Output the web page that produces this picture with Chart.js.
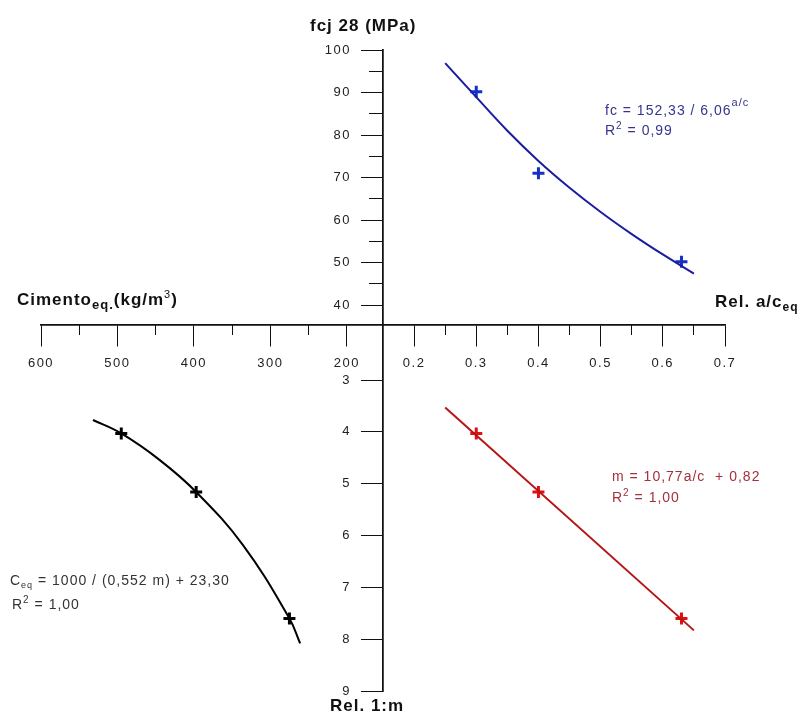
<!DOCTYPE html>
<html><head><meta charset="utf-8">
<script src="https://cdn.jsdelivr.net/npm/chart.js@4.4.1/dist/chart.umd.min.js"></script>
<style>html,body{margin:0;background:#fff}canvas{display:block}</style>
</head><body>
<canvas id="nomo" width="800" height="724"></canvas>
<script>
// measured points: a/c, fcj 28 (MPa), 1:m, cement content (kg/m3)
const acPts=[0.30,0.40,0.63];
const fcPts=[90.2,71.0,50.2];
const mPts=[4.03,5.16,7.60];
const cePts=[495,397,275];
// fitted curves
const fcCurveAc=[0.25,0.30,0.35,0.40,0.45,0.50,0.55,0.60,0.65];
const fcCurveFc=[96.9,88.9,81.0,73.9,67.6,61.9,56.7,51.9,47.4];
const mLineAc=[0.25,0.65];
const mLineM=[3.53,7.83];
const ceCurveM=[3.77,4.03,4.54,5.16,6.18,7.60,8.08];
const ceCurveC=[532,495,445,397,336,275,261];
// ticks
const acTicks=[0.2,0.3,0.4,0.5,0.6,0.7];
const acMinor=[0.25,0.35,0.45,0.55,0.65];
const ceTicks=[200,300,400,500,600];
const ceMinor=[250,350,450,550];
const fcTicks=[40,50,60,70,80,90,100];
const fcMinor=[45,55,65,75,85,95];
const mTicks=[3,4,5,6,7,8,9];

Chart.defaults.font.family='Arial, "Liberation Sans", sans-serif';
const pts=(xs,ys)=>xs.map((x,i)=>({x,y:ys[i]}));

function mkScale(ax,min,max,ticks,major,more){
  return Object.assign({
    type:'linear',axis:ax,min,max,
    position:ax==='x'?{y:35.46}:'center',
    afterBuildTicks:s=>{s.ticks=ticks.map(v=>({value:v}));},
    grid:{drawOnChartArea:false,drawTicks:true,tickLength:major?21:(ax==='x'?11:14),color:'#111',lineWidth:1},
    border:{display:major,color:'#111',width:1.5},
    ticks:{display:major,autoSkip:false,maxRotation:0,padding:ax==='x'?10:11,color:'#222',font:{size:13},
      callback:v=>ax==='x'&&v<1?v.toFixed(1):String(v)}
  },more||{});
}

const textPlugin={id:'texts',
  beforeDraw(c){c.ctx.letterSpacing='1.5px';},
  afterDraw(c){
    const g=c.ctx;g.save();g.textAlign='left';g.textBaseline='alphabetic';
    const rich=(x,y,col,parts)=>{g.fillStyle=col;parts.forEach(([t,f,dy])=>{g.font=f;g.fillText(t,x,y+(dy||0));x+=g.measureText(t).width;});};
    const B='bold 17px Arial, "Liberation Sans", sans-serif';
    const F=s=>s+'px Arial, "Liberation Sans", sans-serif';
    g.letterSpacing='1px';
    rich(310,31,'#111',[['fcj 28 (MPa)',B]]);
    rich(330,711,'#111',[['Rel. 1:m',B]]);
    rich(17,305,'#111',[['Cimento',B],['eq.','bold '+F(13),4],['(kg/m',B],['3',F(11),-7],[')',B]]);
    rich(715,307,'#111',[['Rel. a/c',B],['eq','bold '+F(12),4]]);
    rich(605,115,'#35358f',[['fc = 152,33 / 6,06',F(14)],['a/c',F(11),-9]]);
    rich(605,135,'#35358f',[['R',F(14)],['2',F(10),-6],[' = 0,99',F(14)]]);
    rich(612,481,'#a3303c',[['m = 10,77a/c  + 0,82',F(14)]]);
    rich(612,502,'#a3303c',[['R',F(14)],['2',F(10),-6],[' = 1,00',F(14)]]);
    rich(10,585,'#333',[['C',F(14)],['eq',F(9),3],[' = 1000 / (0,552 m) + 23,30',F(14)]]);
    rich(12,609,'#333',[['R',F(14)],['2',F(10),-6],[' = 1,00',F(14)]]);
    g.restore();
  }};

new Chart(document.getElementById('nomo'),{
  type:'scatter',
  data:{datasets:[
    {data:pts(fcCurveAc,fcCurveFc),xAxisID:'x',yAxisID:'y',showLine:true,borderColor:'#1c1ca0',borderWidth:2,pointRadius:0,tension:0.4},
    {data:pts(acPts,fcPts),xAxisID:'x',yAxisID:'y',pointStyle:'cross',pointRadius:6,borderWidth:3,borderColor:'#1530c8'},
    {data:pts(mLineAc,mLineM),xAxisID:'x',yAxisID:'yM',showLine:true,borderColor:'#b51515',borderWidth:2,pointRadius:0},
    {data:pts(acPts,mPts),xAxisID:'x',yAxisID:'yM',pointStyle:'cross',pointRadius:6,borderWidth:3,borderColor:'#e01010'},
    {data:pts(ceCurveC,ceCurveM),xAxisID:'xC',yAxisID:'yM',showLine:true,borderColor:'#000',borderWidth:2,pointRadius:0,tension:0.4},
    {data:pts(cePts,mPts),xAxisID:'xC',yAxisID:'yM',pointStyle:'cross',pointRadius:6,borderWidth:3,borderColor:'#000'}
  ]},
  options:{
    responsive:false,animation:false,
    layout:{padding:{left:41,right:75,top:50,bottom:33}},
    plugins:{legend:{display:false},tooltip:{enabled:false}},
    scales:{
      x:mkScale('x',-0.40,0.7,acTicks,true),
      xMin:mkScale('x',-0.40,0.7,acMinor,false),
      xC:mkScale('x',-294.8,600,ceTicks,true,{reverse:true}),
      xCMin:mkScale('x',-294.8,600,ceMinor,false,{reverse:true}),
      y:mkScale('y',-50.8,100,fcTicks,true),
      yMin:mkScale('y',-50.8,100,fcMinor,false),
      yM:mkScale('y',-3.37,9,mTicks,true,{reverse:true})
    }
  },
  plugins:[textPlugin]
});
</script>
</body></html>
